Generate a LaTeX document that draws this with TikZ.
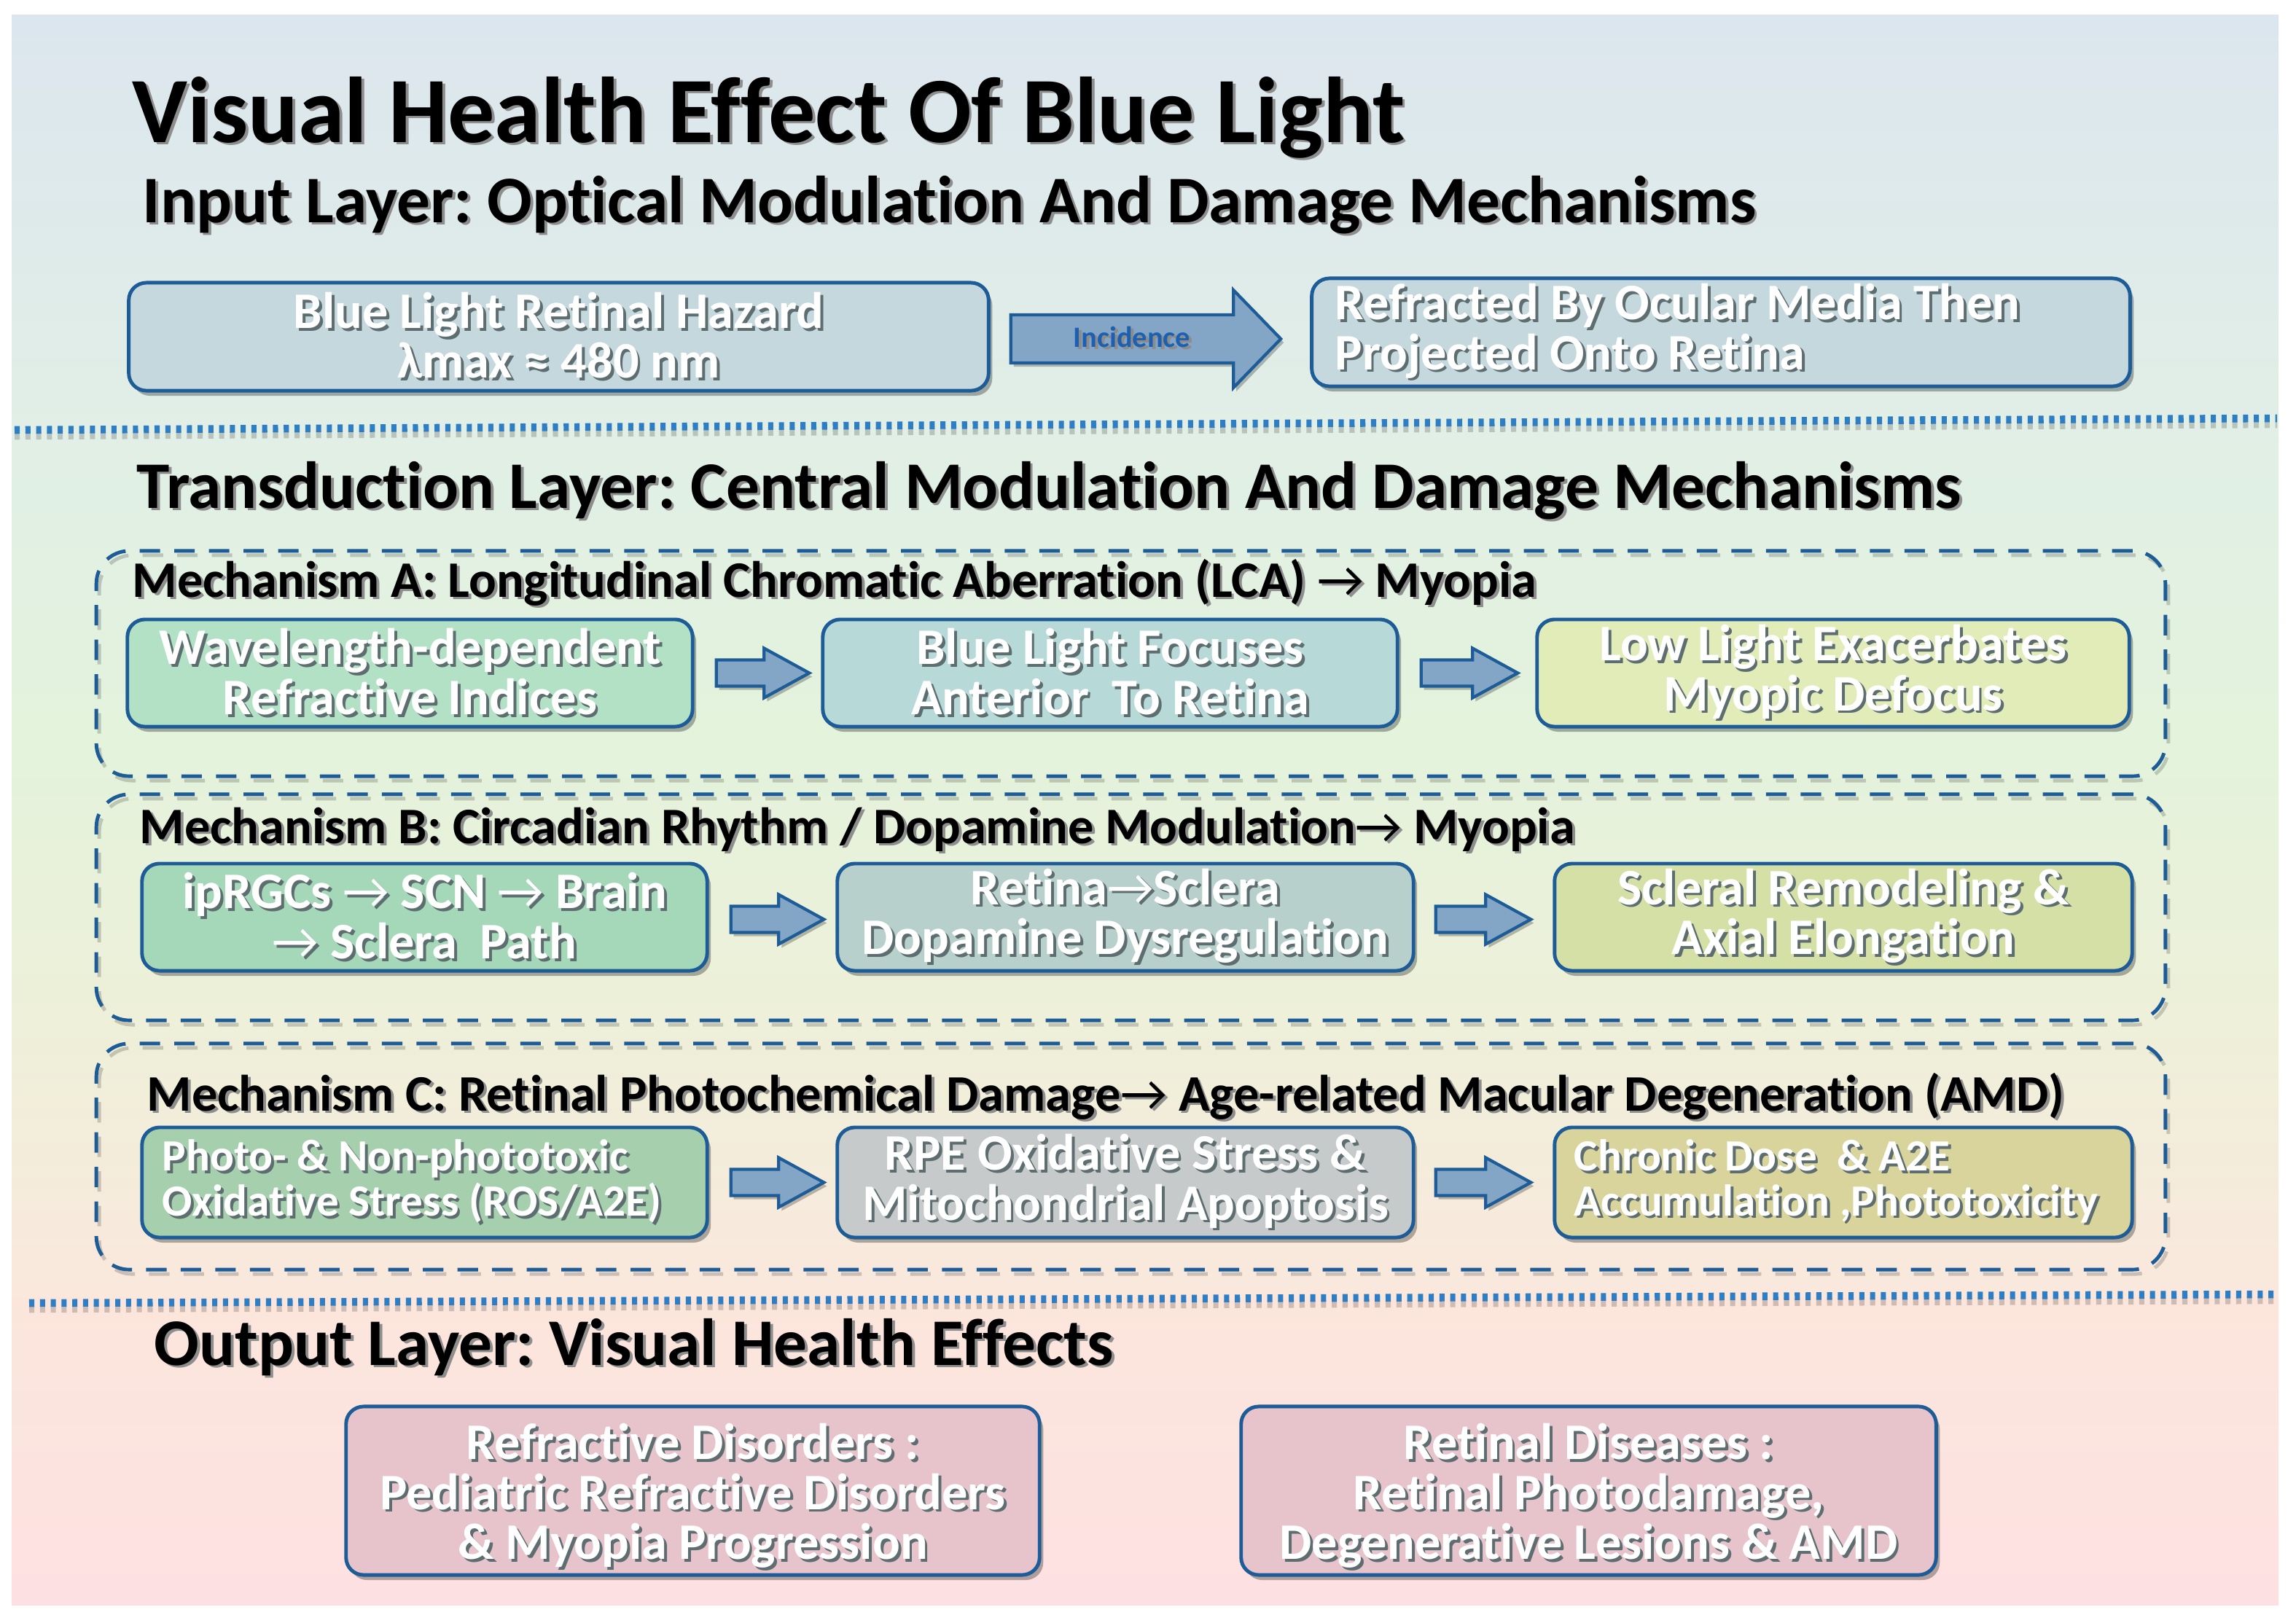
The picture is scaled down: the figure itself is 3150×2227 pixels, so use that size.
\documentclass[tikz,border=0pt]{standalone}
\usepackage{fontspec}
\setmainfont{Carlito}[Ligatures=NoCommon]
\newfontfamily\dejavu{DejaVu Sans}
\usetikzlibrary{calc,shadows}
\frenchspacing

\definecolor{bordc}{HTML}{1D5C96}
\definecolor{dotc}{HTML}{2E7EC6}
\definecolor{arrc}{HTML}{83A6C6}
\definecolor{cin}{HTML}{C4D8DD}
\definecolor{cA1}{HTML}{B2E1C6}
\definecolor{cA2}{HTML}{B7D9D8}
\definecolor{cA3}{HTML}{E1ECB9}
\definecolor{cB1}{HTML}{A5D8B8}
\definecolor{cB2}{HTML}{B8D0CB}
\definecolor{cB3}{HTML}{D5E0A6}
\definecolor{cC1}{HTML}{A6CFAD}
\definecolor{cC2}{HTML}{C6CACA}
\definecolor{cC3}{HTML}{D9D49C}
\definecolor{cO}{HTML}{E7C3CB}
\definecolor{tshadow}{HTML}{5E6E70}
\definecolor{hshadow}{HTML}{8E8E8E}
\definecolor{inctext}{HTML}{1E60B0}
\definecolor{bg1}{HTML}{DCE6EE}
\definecolor{bg2}{HTML}{E1EFE6}
\definecolor{bg3}{HTML}{E3F3DC}
\definecolor{bg4}{HTML}{EEF0D9}
\definecolor{bg5}{HTML}{FAE8DD}
\definecolor{bg6}{HTML}{FCE6DC}
\definecolor{bg7}{HTML}{FDE1E2}

\newcommand\arr{\iffontchar\font"2192\relax{\mdseries →}\else{\dejavu →}\fi}
\newcommand\apx{\iffontchar\font"2248\relax ≈\else{\dejavu ≈}\fi}
\newcommand\sh[2][tshadow]{\leavevmode\rlap{\kern1.1pt\raisebox{-1.1pt}{\textcolor{#1}{#2}}}#2}
\newcommand\ttlfont{\fontsize{36.5}{40}\selectfont\bfseries}
\newcommand\secfont{\fontsize{26}{30}\selectfont\bfseries}
\newcommand\mechfont{\fontsize{20}{24}\selectfont\bfseries}
\newcommand\bxfont{\fontsize{20}{19.5}\selectfont\bfseries}
\newcommand\smfont{\fontsize{17.4}{17.5}\selectfont\bfseries}
\newcommand\incfont{\fontsize{11.5}{12}\selectfont\bfseries}
\newcommand\blockarrow[5]{\path[barr] let \p1=#1, \p2=#2 in
  (\x1,\y1+#3) -- (\x2-#5,\y1+#3) -- (\x2-#5,\y1+#4) -- (\x2,\y1) --
  (\x2-#5,\y1-#4) -- (\x2-#5,\y1-#3) -- (\x1,\y1-#3) -- cycle;}

\begin{document}
\begin{tikzpicture}[x=0.01cm,y=-0.01cm,
  hdr/.style={anchor=base west, inner sep=0pt, text=black},
  box/.style={draw=bordc, line width=1.4pt, rounded corners=0.24cm, text=white,
    align=center, inner sep=0pt, font=\bxfont,
    drop shadow={shadow xshift=0.05cm, shadow yshift=-0.07cm, opacity=0.3, fill=black}},
  grp/.style={draw=bordc, line width=1.4pt, dash pattern=on 8pt off 5.5pt,
    rounded corners=0.45cm, inner sep=0pt,
    preaction={draw=black, draw opacity=0.18, dash pattern=on 8pt off 5.5pt,
      transform canvas={xshift=0.04cm, yshift=-0.06cm}}},
  barr/.style={fill=arrc, draw=bordc, line width=1.2pt, line join=miter,
    preaction={fill=black, fill opacity=0.25, draw=none,
      transform canvas={xshift=0.04cm, yshift=-0.05cm}}},
  dotl/.style={draw=dotc, line width=3pt, dash pattern=on 2pt off 2.2pt},
  dots/.style={draw=black, draw opacity=0.18, line width=3pt, dash pattern=on 2pt off 2.2pt},
]
\fill[white] (0,0) rectangle (3150,2227);
\useasboundingbox (0,0) rectangle (3150,2227);

% background bands
\fill[top color=bg1, bottom color=bg2] (16,20) rectangle (3126,601);
\fill[top color=bg2, bottom color=bg3] (16,600) rectangle (3126,1001);
\fill[top color=bg3, bottom color=bg4] (16,1000) rectangle (3126,1401);
\fill[top color=bg4, bottom color=bg5] (16,1400) rectangle (3126,1781);
\fill[top color=bg6, bottom color=bg7] (16,1780) rectangle (3126,2202);

% separators
\draw[dots] (20,598) -- (3124,582);
\draw[dotl] (20,590) -- (3124,574);
\draw[dots] (40,1796) -- (3124,1784);
\draw[dotl] (40,1788) -- (3124,1776);

% headers
\node[hdr, font=\ttlfont] (title) at (181,195) {\sh[hshadow]{Visual Health Effect Of Blue Light}};
\node[hdr, font=\secfont] (inhdr) at (195,305) {\sh[hshadow]{Input Layer: Optical Modulation And Damage Mechanisms}};
\node[hdr, font=\secfont] (trhdr) at (187,697) {\sh[hshadow]{Transduction Layer: Central Modulation And Damage Mechanisms}};
\node[hdr, font=\secfont] (outhdr) at (211,1873) {\sh[hshadow]{Output Layer: Visual Health Effects}};

% input layer
\node[box, fill=cin, minimum width=11.79cm, minimum height=1.48cm] (in1) at (766.5,462)
  {\sh{Blue Light Retinal Hazard}\\\sh{λmax \apx{} 480 nm}};
\node[box, fill=cin, minimum height=1.48cm, align=flush left, inner xsep=0.32cm, text width=10.58cm] (in2) at (2361,456)
  {\sh{Refracted By Ocular Media Then}\\\sh{Projected Onto Retina}};
\blockarrow{($(in1.east)+(28,3)$)}{($(in2.west)+(-40,9)$)}{0.33cm}{0.67cm}{0.65cm}
\node[inner sep=0pt, font=\incfont, text=inctext] (inc) at ($(in1.east)!0.5!(in2.west)+(-25,5)$)
  {\sh[black!45]{Incidence}};

% groups
\node[grp, minimum width=28.37cm, minimum height=3.09cm] (gA) at (1551.5,910.5) {};
\node[grp, minimum width=28.37cm, minimum height=3.10cm] (gB) at (1551.5,1245) {};
\node[grp, minimum width=28.37cm, minimum height=3.10cm] (gC) at (1551.5,1587) {};

\node[hdr, font=\mechfont] (mA) at (181,819) {\sh[hshadow]{Mechanism A: Longitudinal Chromatic Aberration (LCA) \arr{} Myopia}};
\node[hdr, font=\mechfont] (mB) at (191,1157) {\sh[hshadow]{Mechanism B: Circadian Rhythm / Dopamine Modulation\arr{} Myopia}};
\node[hdr, font=\mechfont] (mC) at (201,1524) {\sh[hshadow]{Mechanism C: Retinal Photochemical Damage\arr{} Age-related Macular Degeneration (AMD)}};

% row A
\node[box, fill=cA1, minimum width=7.75cm, minimum height=1.47cm] (a1) at (562.5,923.5)
  {\sh{Wavelength-dependent}\\\sh{Refractive Indices}};
\node[box, fill=cA2, minimum width=7.88cm, minimum height=1.47cm] (a2) at (1523,923.5)
  {\sh{Blue Light Focuses}\\\sh{Anterior\ \ To Retina}};
\node[box, fill=cA3, minimum width=8.12cm, minimum height=1.47cm] (a3) at (2515,923.5)
  {\sh{Low Light Exacerbates}\\\sh{Myopic Defocus}};
\blockarrow{($(a1.east)+(30,0)$)}{($(a2.west)+(-16,0)$)}{0.18cm}{0.34cm}{0.62cm}
\blockarrow{($(a2.east)+(30,0)$)}{($(a3.west)+(-24,0)$)}{0.18cm}{0.34cm}{0.62cm}

% row B
\node[box, fill=cB1, minimum width=7.75cm, minimum height=1.47cm] (b1) at (582.5,1258.5)
  {\sh{ipRGCs \arr{} SCN \arr{} Brain}\\\sh{\arr{} Sclera\ \ Path}};
\node[box, fill=cB2, minimum width=7.90cm, minimum height=1.47cm] (b2) at (1544,1258.5)
  {\sh{Retina\arr{}Sclera}\\\sh{Dopamine Dysregulation}};
\node[box, fill=cB3, minimum width=7.92cm, minimum height=1.47cm] (b3) at (2529,1258.5)
  {\sh{Scleral Remodeling \&}\\\sh{Axial Elongation}};
\blockarrow{($(b1.east)+(30,3)$)}{($(b2.west)+(-16,3)$)}{0.18cm}{0.34cm}{0.62cm}
\blockarrow{($(b2.east)+(28,3)$)}{($(b3.west)+(-30,3)$)}{0.18cm}{0.34cm}{0.62cm}

% row C
\node[box, fill=cC1, minimum height=1.51cm, align=flush left, inner xsep=0.28cm, text width=7.19cm, font=\smfont] (c1) at (582.5,1622.5)
  {\sh{Photo- \& Non-phototoxic}\\\sh{Oxidative Stress (ROS/A2E)}};
\node[box, fill=cC2, minimum width=7.90cm, minimum height=1.51cm] (c2) at (1544,1622.5)
  {\sh{RPE Oxidative Stress \&}\\\sh{Mitochondrial Apoptosis}};
\node[box, fill=cC3, minimum height=1.51cm, align=flush left, inner xsep=0.27cm, text width=7.38cm, font=\smfont] (c3) at (2529,1622.5)
  {\sh{Chronic Dose\ \ \& A2E}\\\sh{Accumulation ,Phototoxicity}};
\blockarrow{($(c1.east)+(30,0)$)}{($(c2.west)+(-16,0)$)}{0.18cm}{0.34cm}{0.62cm}
\blockarrow{($(c2.east)+(28,0)$)}{($(c3.west)+(-30,0)$)}{0.18cm}{0.34cm}{0.62cm}

% output layer
\node[box, fill=cO, minimum width=9.51cm, minimum height=2.31cm] (o1) at (950.5,2045.5)
  {\rule{0pt}{0.95em}\sh{Refractive Disorders :}\\\sh{Pediatric Refractive Disorders}\\\sh{\& Myopia Progression}};
\node[box, fill=cO, minimum width=9.53cm, minimum height=2.31cm] (o2) at (2179.5,2045.5)
  {\rule{0pt}{0.95em}\sh{Retinal Diseases :}\\\sh{Retinal Photodamage,}\\\sh{Degenerative Lesions \& AMD}};
\end{tikzpicture}
\end{document}
